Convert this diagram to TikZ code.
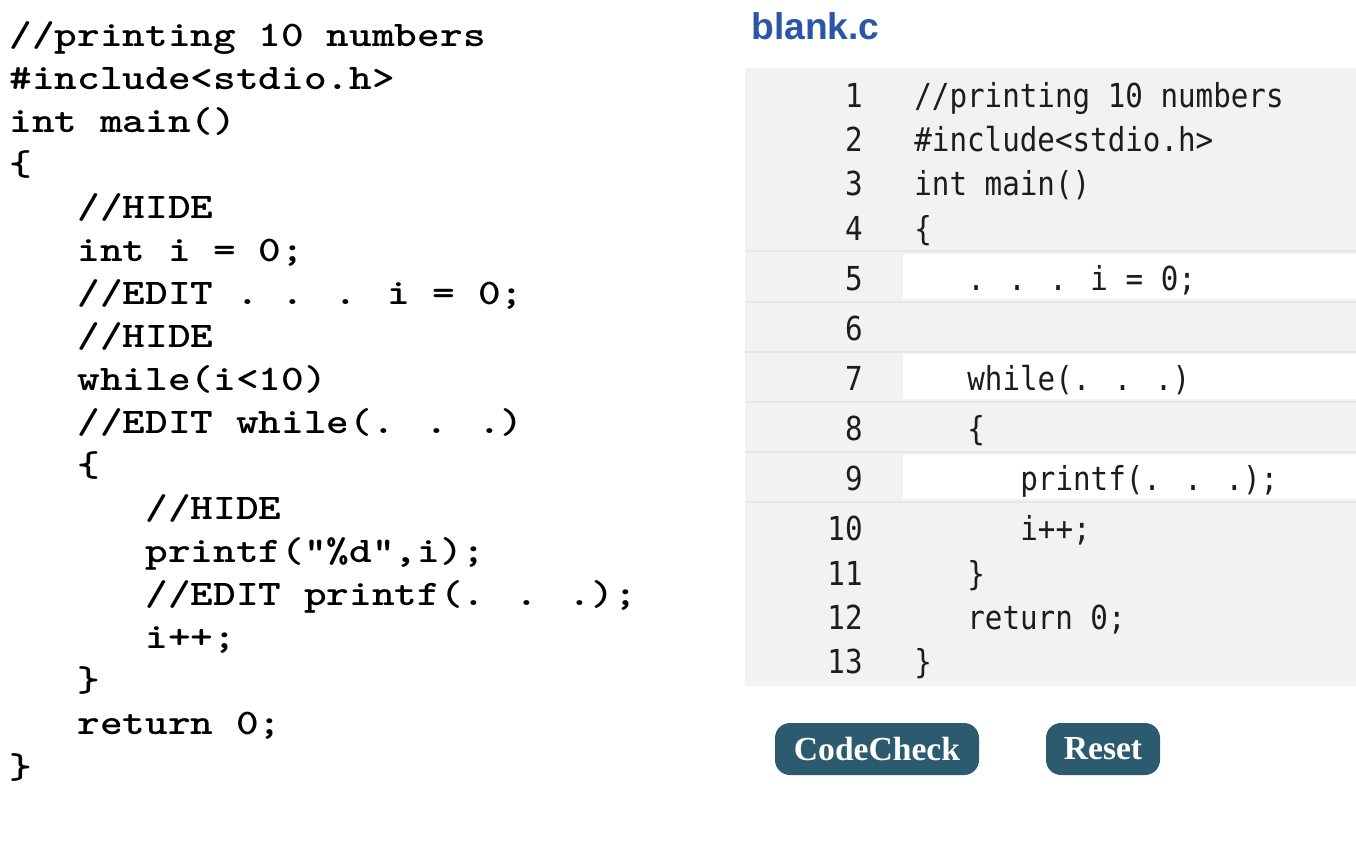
\documentclass[tikz,border=0pt]{standalone}
\usepackage{fontspec}
\newfontfamily\lmono{lmmonolt10-bold.otf}[FakeStretch=1.2,Ligatures=ResetAll]
\newfontfamily\rmono{DejaVu Sans Mono}[FakeStretch=0.885,Ligatures=ResetAll]
\newfontfamily\hsans{Liberation Sans}
\newfontfamily\tserif{Liberation Serif}
\definecolor{panelgray}{RGB}{242,242,244}
\definecolor{sepgray}{RGB}{230,230,233}
\definecolor{codeink}{RGB}{28,28,28}
\definecolor{titleblue}{RGB}{42,86,166}
\definecolor{btnteal}{RGB}{44,90,110}
\tikzset{
  lcode/.style={anchor=base west, inner sep=0pt, text=black,
    font=\lmono\fontsize{18}{22}\selectfont},
  rcode/.style={anchor=base west, inner sep=0pt, text=codeink,
    font=\rmono\fontsize{16.5}{20}\selectfont},
  lnum/.style={rcode, anchor=base east},
  whiterow/.style={fill=white},
  seprow/.style={draw=sepgray, line width=1pt},
  btn/.style={fill=btnteal, text=white, rounded corners=7.5pt, inner sep=0pt,
    minimum height=26pt, font=\tserif\bfseries\fontsize{16.8}{20}\selectfont},
  title/.style={anchor=base west, inner sep=0pt, text=titleblue,
    font=\hsans\bfseries\fontsize{18.6}{22}\selectfont}
}
\begin{document}
\begin{tikzpicture}[x=0.5pt,y=-0.5pt]
\useasboundingbox (0,0) rectangle (1356,857);
\fill[white] (0,0) rectangle (1356,857);

% ---------- left listing ----------
\def\lb#1{46+43.06*(#1-1)}
\node[lcode] (l1)  at (9,{\lb{1}})  {//printing 10 numbers};
\node[lcode] (l2)  at (9,{\lb{2}})  {\#include<stdio.h>};
\node[lcode] (l3)  at (9,{\lb{3}})  {int main()};
\node[lcode] (l4)  at (9,{\lb{4}})  {\{};
\node[lcode] (l5)  at (77,{\lb{5}})  {//HIDE};
\node[lcode] (l6)  at (77,{\lb{6}})  {int i = 0;};
\node[lcode] (l7)  at (77,{\lb{7}})  {//EDIT . . . i = 0;};
\node[lcode] (l8)  at (77,{\lb{8}})  {//HIDE};
\node[lcode] (l9)  at (77,{\lb{9}})  {while(i<10)};
\node[lcode] (l10) at (77,{\lb{10}}) {//EDIT while(. . .)};
\node[lcode] (l11) at (77,{\lb{11}}) {\{};
\node[lcode] (l12) at (145,{\lb{12}}) {//HIDE};
\node[lcode] (l13) at (145,{\lb{13}}) {printf("\%d",i);};
\node[lcode] (l14) at (145,{\lb{14}}) {//EDIT printf(. . .);};
\node[lcode] (l15) at (145,{\lb{15}}) {i++;};
\node[lcode] (l16) at (77,{\lb{16}})  {\}};
\node[lcode] (l17) at (77,{\lb{17}})  {return 0;};
\node[lcode] (l18) at (9,{\lb{18}})   {\}};

% ---------- right editor ----------
\node[title] (ttl) at (751,39) {blank.c};

\fill[panelgray] (745,68) rectangle (1356,686);
\foreach \yy in {251,301.5,351.5,401.5,452,501.5}
  \draw[seprow] (745,\yy) -- (1356,\yy);
\fill[whiterow] (903,254) rectangle (1356,299);
\fill[whiterow] (903,354) rectangle (1356,399);
\fill[whiterow] (903,455) rectangle (1356,499);

\node[lnum] (n1)  at (863,107) {1};
\node[lnum] (n2)  at (863,151) {2};
\node[lnum] (n3)  at (863,195) {3};
\node[lnum] (n4)  at (863,240) {4};
\node[lnum] (n5)  at (863,290) {5};
\node[lnum] (n6)  at (863,340) {6};
\node[lnum] (n7)  at (863,390) {7};
\node[lnum] (n8)  at (863,440) {8};
\node[lnum] (n9)  at (863,490) {9};
\node[lnum] (n10) at (863,540) {10};
\node[lnum] (n11) at (863,585) {11};
\node[lnum] (n12) at (863,629) {12};
\node[lnum] (n13) at (863,673) {13};

\node[rcode] (c1)  at (914,107) {//printing 10 numbers};
\node[rcode] (c2)  at (914,151) {\#include<stdio.h>};
\node[rcode] (c3)  at (914,195) {int main()};
\node[rcode] (c4)  at (914,240) {\{};
\node[rcode] (c5)  at (967,290) {. . . i = 0;};
\node[rcode] (c7)  at (967,390) {while(. . .)};
\node[rcode] (c8)  at (967,440) {\{};
\node[rcode] (c9)  at (1020,490) {printf(. . .);};
\node[rcode] (c10) at (1020,540) {i++;};
\node[rcode] (c11) at (967,585) {\}};
\node[rcode] (c12) at (967,629) {return 0;};
\node[rcode] (c13) at (914,673) {\}};

% ---------- buttons ----------
\node[btn, minimum width=102pt] (codecheck) at (877,749) {CodeCheck};
\node[btn, minimum width=57pt] (reset) at (1103,749) {Reset};
\end{tikzpicture}
\end{document}
